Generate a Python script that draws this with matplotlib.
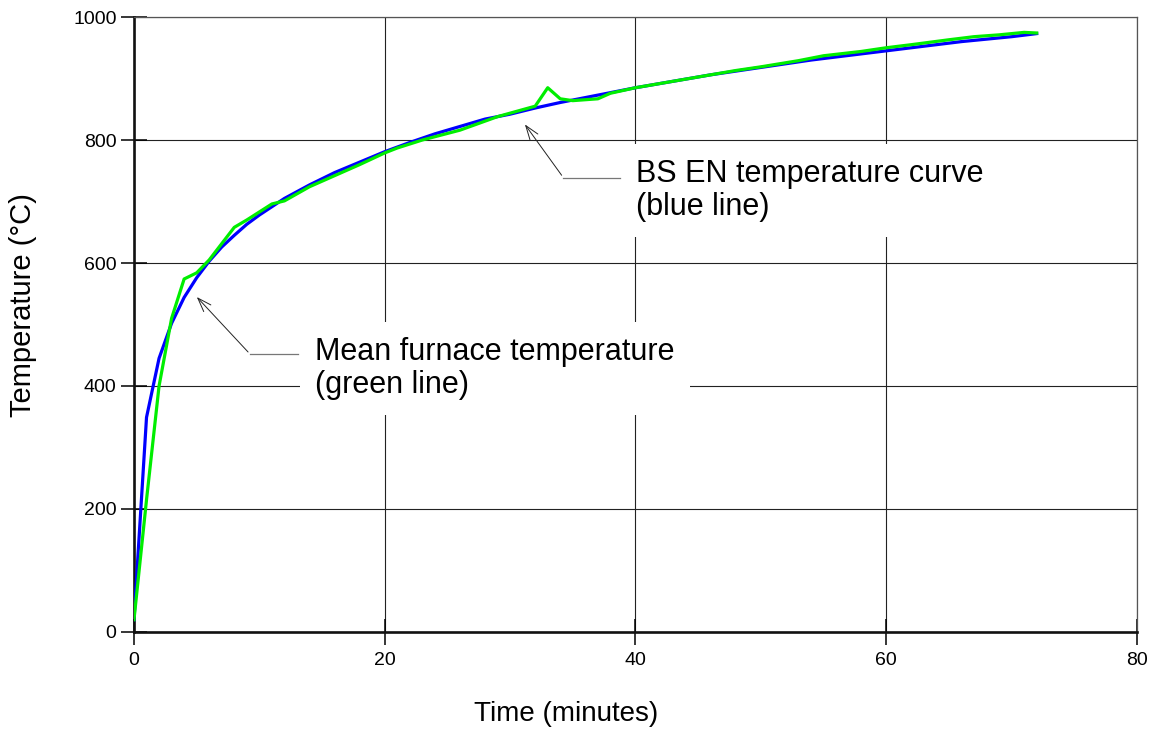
import matplotlib
matplotlib.use("Agg")
import matplotlib.pyplot as plt

# BS EN standard fire curve (blue)
bs_time = [0, 1, 2, 3, 4, 5, 6, 7, 8, 9, 10, 12, 14, 16, 18, 20, 22, 24, 26, 28,
           30, 32, 34, 36, 38, 40, 42, 44, 46, 48, 50, 52, 54, 56, 58, 60, 62,
           64, 66, 68, 70, 72]
bs_temp = [20, 349, 445, 502, 544, 576, 603, 626, 645, 663, 678, 705, 727, 747,
           764, 781, 796, 810, 822, 834, 842, 852, 861, 869, 877, 885, 892, 899,
           906, 912, 918, 924, 930, 935, 940, 945, 950, 955, 960, 964, 968, 973]

# mean furnace temperature (green)
furnace_time = [0, 1, 2, 3, 4, 5, 6, 8, 9, 11, 12, 14, 16, 18, 20, 21, 23, 26,
                29, 32, 33, 34, 35, 37, 38, 40, 44, 48, 50, 53, 55, 58, 60, 62,
                65, 67, 69, 71, 72]
furnace_temp = [20, 215, 400, 510, 574, 584, 605, 658, 670, 696, 701, 724, 742,
                760, 779, 787, 800, 816, 838, 855, 885, 867, 864, 867, 876, 885,
                899, 913, 919, 929, 937, 944, 950, 955, 963, 968, 971, 975, 974]

x_ticks = [0, 20, 40, 60, 80]
y_ticks = [0, 200, 400, 600, 800, 1000]

plt.rcParams["font.family"] = ["Liberation Sans", "DejaVu Sans"]

fig = plt.figure(figsize=(11.57, 7.33), dpi=100)
ax = fig.add_axes([0.1158, 0.1378, 0.8669, 0.839])

ax.plot(bs_time, bs_temp, color="#0000ff", lw=2.3, zorder=3)
ax.plot(furnace_time, furnace_temp, color="#00ee00", lw=2.3, zorder=4)

ax.set_xlim(0, 80)
ax.set_ylim(0, 1000)
ax.set_xticks(x_ticks)
ax.set_yticks(y_ticks)
ax.grid(True, color="#222222", lw=0.8, zorder=1)
ax.set_axisbelow(True)
ax.tick_params(direction="inout", length=19, width=1.1, labelsize=14, pad=3)
ax.tick_params(axis="x", pad=5)

for side in ["left", "bottom"]:
    ax.spines[side].set_linewidth(1.9)
    ax.spines[side].set_color("#111111")
for side in ["top", "right"]:
    ax.spines[side].set_linewidth(0.9)
    ax.spines[side].set_color("#555555")

# axis titles sit a bit off-centre in the original
fig.text(566 / 1157, 1 - 714 / 733, "Time (minutes)", fontsize=20,
         ha="center", va="center")
fig.text(23 / 1157, 1 - 305 / 733, "Temperature (°C)", fontsize=21,
         ha="center", va="center", rotation=90)

# annotation text boxes hide the grid behind them
box = dict(facecolor="white", edgecolor="none", pad=11)
ax.text(14.45, 479, "Mean furnace temperature\n(green line)", fontsize=22,
        ha="left", va="top", bbox=box, zorder=2, linespacing=1.12)
ax.text(40.05, 769, "BS EN temperature curve\n(blue line)", fontsize=22,
        ha="left", va="top", bbox=box, zorder=2, linespacing=1.12)

# leader lines with open arrow heads
ax.plot([9.25, 13.06], [452, 452], color="#777777", lw=0.9, zorder=5)
ax.annotate("", xy=(4.86, 548), xytext=(9.25, 452),
            arrowprops=dict(arrowstyle="->,head_length=1.0,head_width=0.35",
                            color="#222222", lw=0.7), zorder=5)
ax.plot([34.24, 38.76], [739, 739], color="#777777", lw=0.9, zorder=5)
ax.annotate("", xy=(31.05, 829), xytext=(34.24, 739),
            arrowprops=dict(arrowstyle="->,head_length=1.0,head_width=0.35",
                            color="#222222", lw=0.7), zorder=5)

fig.savefig("out.png", dpi=100)
